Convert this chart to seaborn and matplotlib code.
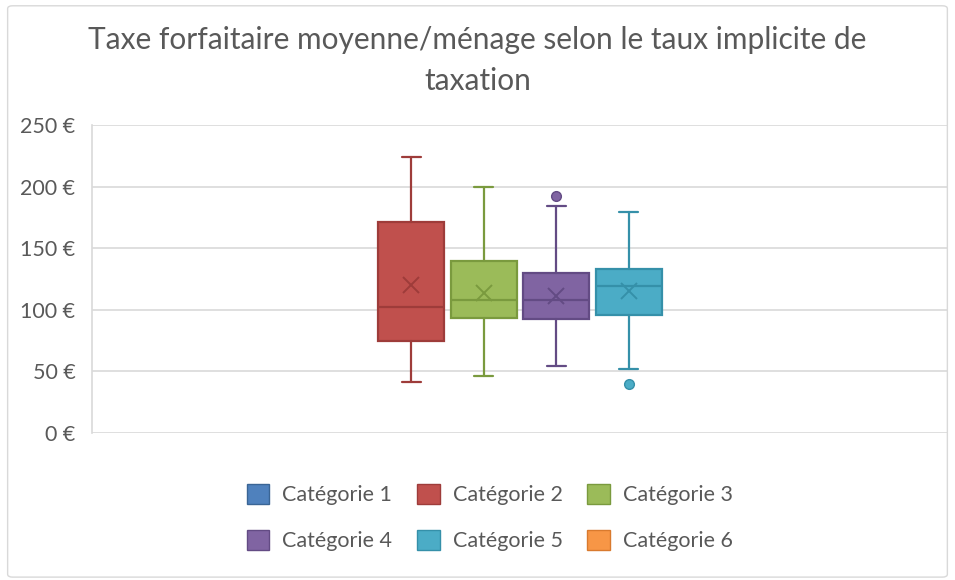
import numpy as np
import matplotlib
matplotlib.use("Agg")
import matplotlib.pyplot as plt
from matplotlib.patches import Patch, FancyBboxPatch
import seaborn as sns

# values (five-number summary + mean + outliers)
categories = ["Catégorie 1", "Catégorie 2", "Catégorie 3", "Catégorie 4", "Catégorie 5", "Catégorie 6"]
whisker_low = [None, 41, 46.5, 54, 52, None]
q1 = [None, 74.5, 93, 92.5, 96, None]
median = [None, 102.5, 108, 108, 119, None]
q3 = [None, 171.5, 140, 130, 133, None]
whisker_high = [None, 224, 199.5, 184.5, 179, None]
means = [None, 120.5, 114, 111, 115, None]
outliers = [[], [], [], [192.5], [39.5], []]

fills = ["#4F81BD", "#C0504D", "#9BBB59", "#8064A2", "#4BACC6", "#F79646"]
edges = ["#3A6595", "#9E3C3A", "#7A9A3E", "#634B84", "#3590A9", "#D97A2E"]

sns.set_theme(style="white")
plt.rcParams["font.family"] = ["Lato", "DejaVu Sans"]
grey_txt = "#595959"

fig = plt.figure(figsize=(9.55, 5.8), dpi=100)
ax = fig.add_axes([92 / 955, 147 / 580, 856 / 955, 308 / 580])

for i, cat in enumerate(categories):
    if q1[i] is None:
        continue
    st = [{
        "whislo": whisker_low[i], "q1": q1[i], "med": median[i], "q3": q3[i],
        "whishi": whisker_high[i], "mean": means[i], "fliers": outliers[i], "label": cat,
    }]
    ec = edges[i]
    ax.bxp(st, positions=[i + 1], widths=0.91, capwidths=0.26, patch_artist=True,
           showmeans=True, manage_ticks=False,
           boxprops=dict(facecolor=fills[i], edgecolor=ec, linewidth=1.6),
           medianprops=dict(color=ec, linewidth=1.6),
           whiskerprops=dict(color=ec, linewidth=1.6),
           capprops=dict(color=ec, linewidth=1.6),
           meanprops=dict(marker="x", markeredgecolor=ec, markersize=12, markeredgewidth=1.4),
           flierprops=dict(marker="o", markerfacecolor=fills[i], markeredgecolor=ec,
                           markersize=7, markeredgewidth=1))

ax.set_xlim(-2.4, 9.4)
ax.set_ylim(0, 250)
ax.set_yticks(np.arange(0, 251, 50))
ax.set_yticklabels([f"{v} €" for v in range(0, 251, 50)])
ax.set_xticks([])
ax.grid(axis="y", color="#D9D9D9", linewidth=1.2)
ax.set_axisbelow(True)
for s in ["top", "right", "bottom"]:
    ax.spines[s].set_visible(False)
ax.spines["left"].set_color("#D9D9D9")
ax.spines["left"].set_linewidth(1.2)
ax.tick_params(axis="y", labelsize=15.5, colors=grey_txt, length=0, pad=12)

fig.text(0.5, 0.955, "Taxe forfaitaire moyenne/ménage selon le taux implicite de\ntaxation",
         ha="center", va="top", fontsize=21.5, color=grey_txt, linespacing=1.55)

# legend laid out row by row like the original
order = [0, 3, 1, 4, 2, 5]
handles = [Patch(facecolor=fills[i], edgecolor=edges[i], label=categories[i]) for i in order]
fig.legend(handles=handles, loc="center", bbox_to_anchor=(0.513, 0.108), ncol=3, frameon=False,
           fontsize=15.5, labelcolor=grey_txt, handlelength=1.05, handleheight=1.05,
           columnspacing=1.15, handletextpad=0.6, labelspacing=1.15)

border = FancyBboxPatch((0.008, 0.005), 0.984, 0.985, boxstyle="round,pad=0,rounding_size=0.005",
                        transform=fig.transFigure, fill=False, edgecolor="#D9D9D9", linewidth=1)
fig.patches.append(border)

fig.savefig("out.png", dpi=100)
